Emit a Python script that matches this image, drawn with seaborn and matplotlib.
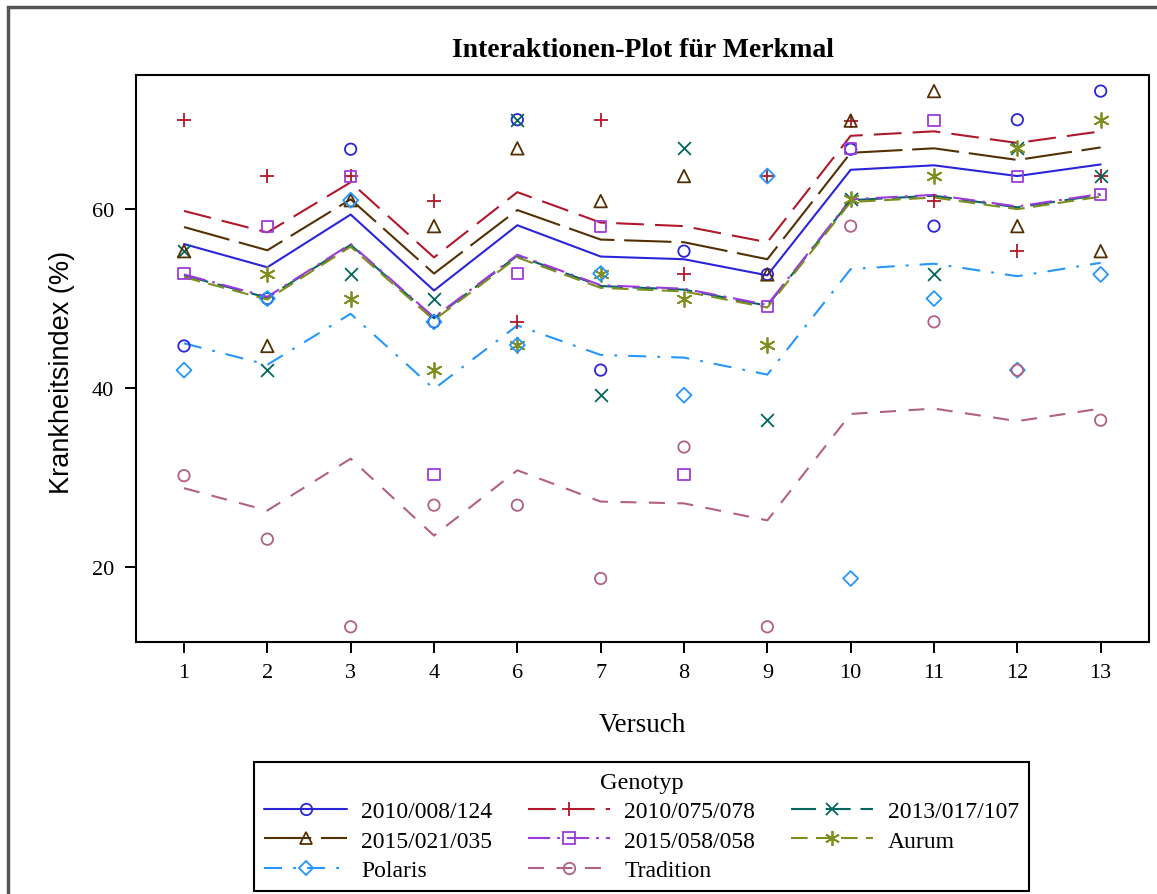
import numpy as np
import pandas as pd
import matplotlib
matplotlib.use("Agg")
import matplotlib.pyplot as plt
from matplotlib.lines import Line2D
from matplotlib.patches import Rectangle
import seaborn as sns

# ---------------------------------------------------------------- data
trials = ["1", "2", "3", "4", "6", "7", "8", "9", "10", "11", "12", "13"]
genotypes = ["2010/008/124", "2010/075/078", "2013/017/107", "2015/021/035",
             "2015/058/058", "Aurum", "Polaris", "Tradition"]

# observed disease index per genotype and trial (NaN = not observed)
obs_2010_008_124 = [44.7, 50.0, 66.7, 47.4, 70.0, 42.0, 55.3, 52.7, 66.7, 58.1, 70.0, 73.2]
obs_2010_075_078 = [70.0, 63.7, 63.7, 60.9, 47.4, 70.0, 52.8, 63.7, 69.9, 60.9, 55.3, 63.7]
obs_2013_017_107 = [55.3, 42.0, 52.8, 50.0, 70.0, 39.2, 66.8, 36.4, 61.1, 52.8, 66.8, 63.7]
obs_2015_021_035 = [55.3, 44.7, 61.0, 58.1, 66.8, 60.9, 63.7, 52.7, 69.9, 73.2, 58.1, 55.3]
obs_2015_058_058 = [52.8, 58.1, 63.7, 30.3, 52.8, 58.1, 30.3, 49.1, 66.8, 69.9, 63.7, 61.6]
obs_aurum = [np.nan, 52.7, 50.0, 42.0, 44.8, 52.8, 50.0, 44.8, 61.1, 63.7, 66.8, 70.0]
obs_polaris = [42.0, 50.0, 61.0, 47.4, 44.8, 52.8, 39.2, 63.7, 18.7, 50.0, 42.0, 52.7]
obs_tradition = [30.2, 23.1, 13.3, 26.9, 26.9, 18.7, 33.4, 13.3, 58.1, 47.4, 42.0, 36.4]

# model-fitted values per genotype and trial
fit_2010_008_124 = [56.1, 53.5, 59.4, 50.9, 58.2, 54.7, 54.4, 52.6, 64.4, 64.9, 63.7, 65.0]
fit_2010_075_078 = [59.8, 57.4, 63.0, 54.6, 61.9, 58.5, 58.1, 56.3, 68.2, 68.7, 67.4, 68.7]
fit_2013_017_107 = [52.6, 50.1, 56.0, 47.8, 54.8, 51.4, 51.0, 49.2, 61.0, 61.5, 60.2, 61.6]
fit_2015_021_035 = [58.0, 55.4, 61.1, 52.8, 59.9, 56.6, 56.3, 54.4, 66.3, 66.8, 65.5, 66.9]
fit_2015_058_058 = [52.7, 50.2, 56.1, 47.9, 54.9, 51.5, 51.1, 49.3, 61.1, 61.6, 60.3, 61.7]
fit_aurum = [52.4, 49.9, 55.8, 47.6, 54.6, 51.2, 50.8, 49.0, 60.8, 61.3, 60.0, 61.4]
fit_polaris = [45.0, 42.6, 48.3, 39.9, 47.0, 43.7, 43.4, 41.5, 53.3, 53.9, 52.5, 54.0]
fit_tradition = [28.8, 26.3, 32.1, 23.5, 30.8, 27.3, 27.1, 25.2, 37.1, 37.7, 36.3, 37.7]

observed = [obs_2010_008_124, obs_2010_075_078, obs_2013_017_107, obs_2015_021_035,
            obs_2015_058_058, obs_aurum, obs_polaris, obs_tradition]
fitted = [fit_2010_008_124, fit_2010_075_078, fit_2013_017_107, fit_2015_021_035,
          fit_2015_058_058, fit_aurum, fit_polaris, fit_tradition]

pos = np.arange(len(trials))
rows = []
for g, o, f in zip(genotypes, observed, fitted):
    for i, t in enumerate(trials):
        rows.append({"Genotyp": g, "Versuch": t, "pos": pos[i], "obs": o[i], "fit": f[i]})
df = pd.DataFrame(rows)

# ---------------------------------------------------------------- styles
colors = {
    "2010/008/124": "#2A25D9", "2010/075/078": "#B2182B", "2013/017/107": "#01665E",
    "2015/021/035": "#543005", "2015/058/058": "#9D3CDB", "Aurum": "#7F8E1F",
    "Polaris": "#2597FA", "Tradition": "#B26084",
}
dash_map = {
    "2010/008/124": "", "2010/075/078": (20, 8), "2013/017/107": (18, 7),
    "2015/021/035": (34, 7), "2015/058/058": (16, 5, 2, 5), "Aurum": (12, 6),
    "Polaris": (13, 8, 2, 8), "Tradition": (11.5, 9),
}
markers = {
    "2010/008/124": ("o", 8.2, True), "2010/075/078": ("+", 10.5, False),
    "2013/017/107": ("x", 9.2, False), "2015/021/035": ("^", 9.0, True),
    "2015/058/058": ("s", 8.0, True), "Aurum": ((6, 2, 0), 10.8, False),
    "Polaris": ("D", 7.6, True), "Tradition": ("o", 8.2, True),
}

sns.set_style("ticks")
plt.rcParams.update({
    "font.family": ["Liberation Serif", "DejaVu Serif"],
    "lines.scale_dashes": False,
    "axes.edgecolor": "black",
    "axes.linewidth": 1.5,
    "text.color": "black",
    "axes.labelcolor": "black",
    "xtick.color": "black",
    "ytick.color": "black",
})

W, H = 1157, 895
fig = plt.figure(figsize=(W / 100, H / 100), dpi=100)
ax = fig.add_axes([136 / W, 1 - 643 / H, (1149 - 136) / W, (643 - 76) / H])

# fitted interaction lines
sns.lineplot(data=df, x="pos", y="fit", hue="Genotyp", style="Genotyp",
             hue_order=genotypes, style_order=genotypes, palette=colors,
             dashes=dash_map, estimator=None, sort=False, legend=False,
             linewidth=1.5, ax=ax, zorder=2)

# observed points, open markers
for g in genotypes:
    sub = df[df["Genotyp"] == g]
    m, ms, fillable = markers[g]
    kw = dict(marker=m, s=ms ** 2, linewidth=1.3, legend=False, ax=ax, zorder=3)
    if fillable:
        kw.update(facecolor="none", edgecolor=colors[g])
    else:
        kw.update(color=colors[g])
    sns.scatterplot(data=sub, x="pos", y="obs", **kw)

ax.set_xlim(-0.576, 11.58)
ax.set_ylim(11.6, 75.0)
ax.set_xticks(pos)
ax.set_xticklabels(trials)
ax.set_yticks([20, 40, 60])
for sp in ax.spines.values():
    sp.set_visible(True)
    sp.set_linewidth(1.5)
    sp.set_color("black")
ax.tick_params(direction="out", length=8, width=1.4, labelsize=16, color="black",
               labelcolor="black")
ax.tick_params(axis="y", pad=8)
ax.tick_params(axis="x", pad=7)

ax.set_title("Interaktionen-Plot für Merkmal", fontsize=20, fontweight="bold",
             pad=14, color="black")
ax.set_xlabel("Versuch", fontsize=19.5)
ax.xaxis.set_label_coords(0.5, -0.123)
ax.set_ylabel("Krankheitsindex (%)", fontsize=19.5,
              family=["Liberation Sans", "DejaVu Sans"])
ax.yaxis.set_label_coords(-0.060, 0.478)

# legend: line + marker symbols, three columns
handles = {}
for g in genotypes:
    m, ms, fillable = markers[g]
    d = dash_map[g]
    ls = "-" if d == "" else (0, d)
    handles[g] = Line2D([], [], color=colors[g], linestyle=ls, linewidth=1.5,
                        marker=m, markersize=ms,
                        markerfacecolor="none" if fillable else colors[g],
                        markeredgecolor=colors[g], markeredgewidth=1.3)
col_order = ["2010/008/124", "2015/021/035", "Polaris",
             "2010/075/078", "2015/058/058", "Tradition",
             "2013/017/107", "Aurum"]
leg = fig.legend([handles[g] for g in col_order], col_order, ncol=3,
                 loc="upper center", bbox_to_anchor=(641.5 / W, 1 - 763 / H),
                 borderaxespad=0.0,
                 title="Genotyp", fontsize=17, title_fontsize=17.5,
                 frameon=True, fancybox=False, edgecolor="black",
                 handlelength=3.5, handletextpad=0.6, columnspacing=1.5,
                 borderpad=0.42, labelspacing=0.33, numpoints=1)
leg.get_frame().set_linewidth(1.5)
leg.get_frame().set_alpha(None)
leg.get_frame().set_facecolor("white")

# outer page border
fig.patches.append(Rectangle((8 / W, -0.05), 1.1, 1 - 8 / H + 0.05,
                             transform=fig.transFigure, fill=False,
                             edgecolor="#555555", linewidth=2.5, clip_on=False))

fig.savefig("out.png", dpi=100)
